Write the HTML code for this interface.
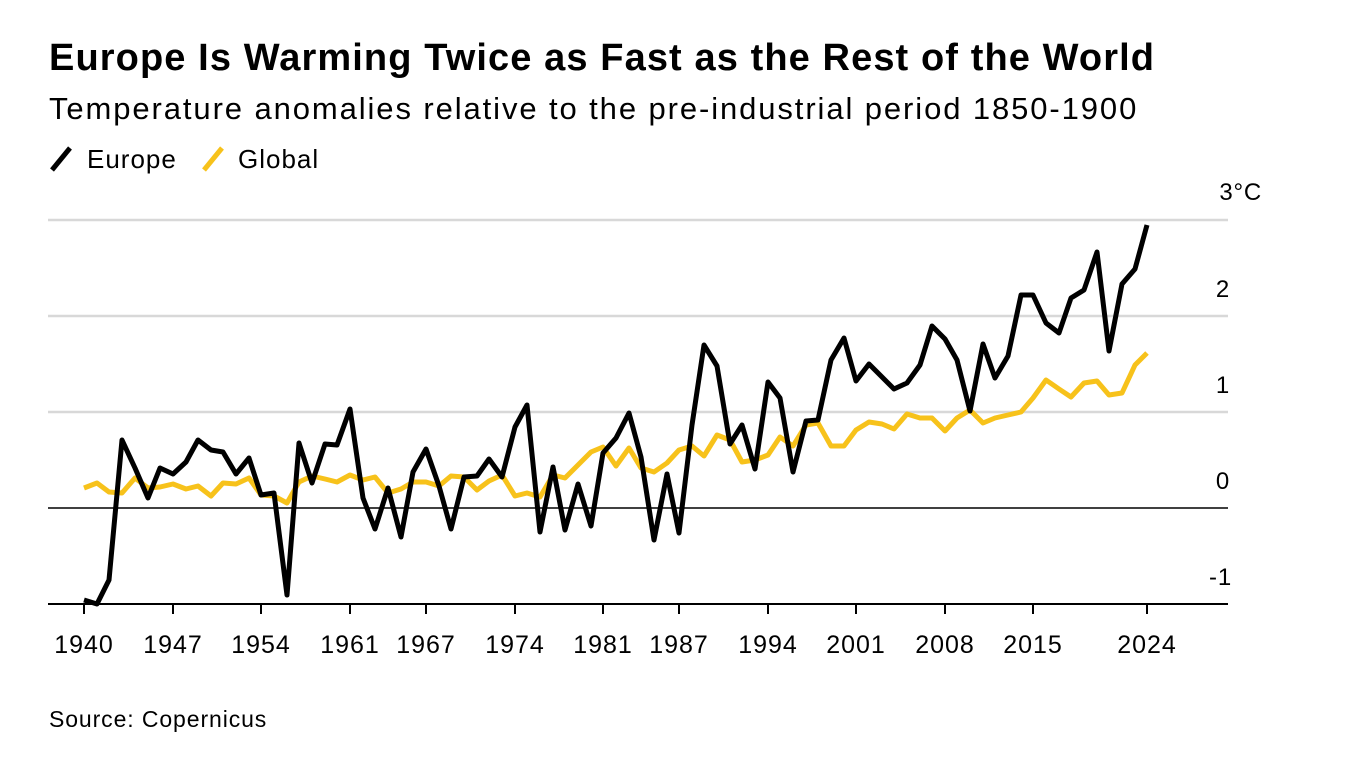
<!DOCTYPE html>
<html><head><meta charset="utf-8"><style>
body{margin:0;background:#fff;width:1369px;height:776px;overflow:hidden;font-family:"Liberation Sans",Arial,sans-serif}
</style></head><body>
<svg width="1369" height="776" viewBox="0 0 1369 776" xmlns="http://www.w3.org/2000/svg" font-family="Liberation Sans, Arial, sans-serif">
<text x="49" y="70" font-size="38" font-weight="bold" fill="#000" letter-spacing="1.1">Europe Is Warming Twice as Fast as the Rest of the World</text>
<text x="49" y="119" font-size="31" fill="#000" letter-spacing="1.9">Temperature anomalies relative to the pre-industrial period 1850-1900</text>
<line x1="52" y1="170" x2="70" y2="148" stroke="#000" stroke-width="5"/>
<text x="87" y="168" font-size="26" fill="#000" letter-spacing="1">Europe</text>
<line x1="204" y1="170" x2="222" y2="148" stroke="#f7c21b" stroke-width="5"/>
<text x="238" y="168" font-size="26" fill="#000" letter-spacing="1">Global</text>
<g stroke="#d8d8d8" stroke-width="2.5">
<line x1="48" y1="220" x2="1228" y2="220"/><line x1="48" y1="316" x2="1228" y2="316"/><line x1="48" y1="412" x2="1228" y2="412"/>
</g>
<line x1="48" y1="508" x2="1228" y2="508" stroke="#000" stroke-width="1.5"/>
<line x1="48" y1="604" x2="1228" y2="604" stroke="#000" stroke-width="2"/>
<g font-size="24" fill="#000" text-anchor="end" letter-spacing="0.8">
<text x="1262" y="200">3°C</text><text x="1230" y="297">2</text><text x="1230" y="393">1</text><text x="1230" y="489">0</text><text x="1232" y="585">-1</text>
</g>
<g stroke="#000" stroke-width="2">
<line x1="84" y1="604" x2="84" y2="614"/><line x1="173" y1="604" x2="173" y2="614"/><line x1="261" y1="604" x2="261" y2="614"/><line x1="350" y1="604" x2="350" y2="614"/><line x1="426" y1="604" x2="426" y2="614"/><line x1="515" y1="604" x2="515" y2="614"/><line x1="603" y1="604" x2="603" y2="614"/><line x1="679" y1="604" x2="679" y2="614"/><line x1="768" y1="604" x2="768" y2="614"/><line x1="856" y1="604" x2="856" y2="614"/><line x1="945" y1="604" x2="945" y2="614"/><line x1="1033" y1="604" x2="1033" y2="614"/><line x1="1147" y1="604" x2="1147" y2="614"/>
</g>
<g font-size="25" fill="#000" text-anchor="middle" letter-spacing="1">
<text x="84" y="653">1940</text><text x="173" y="653">1947</text><text x="261" y="653">1954</text><text x="350" y="653">1961</text><text x="426" y="653">1967</text><text x="515" y="653">1974</text><text x="603" y="653">1981</text><text x="679" y="653">1987</text><text x="768" y="653">1994</text><text x="856" y="653">2001</text><text x="945" y="653">2008</text><text x="1033" y="653">2015</text><text x="1147" y="653">2024</text>
</g>
<polyline fill="none" stroke="#f7c21b" stroke-width="5" stroke-linejoin="round" points="84,488 97,483 109,492 122,493 135,478 148,488 160,487 173,484 186,489 198,486 211,496 223,483 236,484 249,478 261,495 274,496 287,503 299,482 312,476 325,479 337,482 350,475 363,480 375,477 388,493 401,489 413,482 426,482 439,486 451,476 464,477 477,490 489,481 502,475 515,496 527,493 540,497 553,475 565,478 578,465 591,452 603,447 616,466 629,448 641,468 654,472 667,463 679,450 692,446 704,456 717,435 730,440 742,462 755,460 768,455 780,437 793,446 806,425 818,423 831,446 844,446 856,430 869,422 882,424 894,429 907,414 920,418 932,418 945,431 957,418 970,410 983,423 995,418 1008,415 1021,412 1033,398 1046,380 1059,389 1071,397 1084,383 1097,381 1109,395 1122,393 1135,365 1147,353"/>
<polyline fill="none" stroke="#000" stroke-width="5" stroke-linejoin="round" points="84,600 97,604 109,580 122,440 135,468 148,498 160,468 173,474 186,462 198,440 211,450 223,452 236,474 249,458 261,495 274,493 287,595 299,443 312,483 325,444 337,445 350,409 363,498 375,529 388,488 401,537 413,472 426,449 439,486 451,529 464,477 477,476 489,459 502,477 515,427 527,405 540,532 553,467 565,530 578,484 591,526 603,453 616,438 629,413 641,457 654,540 667,474 679,533 692,425 704,345 717,366 730,444 742,425 755,469 768,382 780,398 793,472 806,421 818,420 831,360 844,338 856,381 869,364 882,377 894,389 907,383 920,365 932,326 945,339 957,360 970,411 983,344 995,378 1008,356 1021,295 1033,295 1046,323 1059,333 1071,298 1084,290 1097,252 1109,351 1122,284 1135,269 1147,225"/>
<text x="49" y="727" font-size="23" fill="#000" letter-spacing="0.9">Source: Copernicus</text>
</svg>
</body></html>
